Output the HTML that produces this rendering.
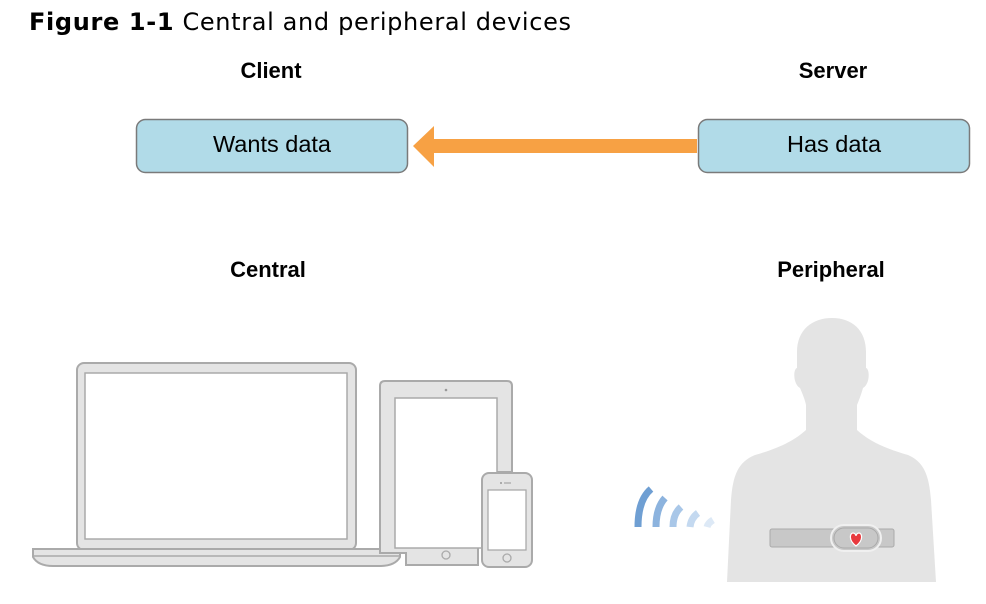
<!DOCTYPE html>
<html><head><meta charset="utf-8"><style>
html,body{margin:0;padding:0;background:#fff;}
svg{display:block;}
</style></head><body>
<svg width="986" height="604" viewBox="0 0 986 604" xmlns="http://www.w3.org/2000/svg">
<text x="29" y="30" font-family="'DejaVu Sans',sans-serif" font-size="24" fill="#000" textLength="542" lengthAdjust="spacing"><tspan font-weight="bold">Figure 1-1</tspan>  Central and peripheral devices</text>
<g font-family="'Liberation Sans',sans-serif" font-weight="bold" font-size="22" text-anchor="middle" fill="#000">
<text x="271" y="78">Client</text>
<text x="833" y="78">Server</text>
<text x="268" y="277">Central</text>
<text x="831" y="277">Peripheral</text>
</g>
<rect x="136.5" y="119.5" width="271" height="53" rx="9" fill="#b1dbe8" stroke="#7a7a7a" stroke-width="1.5"/>
<rect x="698.5" y="119.5" width="271" height="53" rx="9" fill="#b1dbe8" stroke="#7a7a7a" stroke-width="1.5"/>
<g font-family="'Liberation Sans',sans-serif" font-size="23.5" text-anchor="middle" fill="#000">
<text x="272" y="152">Wants data</text>
<text x="834" y="152">Has data</text>
</g>
<path d="M413 146 L434 126 L434 139 L697 139 L697 153 L434 153 L434 167 Z" fill="#f7a144"/>
<!-- laptop -->
<rect x="77" y="363" width="279" height="187" rx="7" fill="#e4e4e4" stroke="#aaa" stroke-width="2"/>
<rect x="85" y="373" width="262" height="166" fill="#fff" stroke="#aaa" stroke-width="1.5"/>
<path d="M33 557 L33 549 L400 549 L400 557 Q395 566 380 566 L53 566 Q38 566 33 557 Z" fill="#e4e4e4" stroke="#aaa" stroke-width="2"/>
<line x1="33" y1="556" x2="400" y2="556" stroke="#aaa" stroke-width="1.5"/>
<!-- tablet -->
<path d="M380 549 L380 386 Q380 381 385 381 L507 381 Q512 381 512 386 L512 472 L478 472 L478 565 L406 565 L406 553 L380 553 Z" fill="#e4e4e4" stroke="#aaa" stroke-width="2"/>
<rect x="395" y="398" width="102" height="150" fill="#fff" stroke="#aaa" stroke-width="1.5"/>
<circle cx="446" cy="390" r="1.3" fill="#999"/>
<circle cx="446" cy="555" r="4" fill="none" stroke="#aaa" stroke-width="1.3"/>
<!-- phone -->
<rect x="482" y="473" width="50" height="94" rx="7" fill="#e4e4e4" stroke="#aaa" stroke-width="2"/>
<rect x="488" y="490" width="38" height="60" fill="#fff" stroke="#aaa" stroke-width="1.3"/>
<circle cx="501" cy="483" r="1" fill="#999"/><line x1="504" y1="483" x2="511" y2="483" stroke="#999" stroke-width="1"/>
<circle cx="507" cy="558" r="4" fill="none" stroke="#aaa" stroke-width="1.3"/>
<!-- person -->
<path d="M832 318 C812 318 797 330 797 352 L797 368 C793 369 793 384 800 388 C803 395 805 400 806 405 L806 430 C795 440 780 448 755 455 C738 462 733 475 731 500 L727 582 L936 582 L931 500 C929 475 924 462 908 455 C883 448 868 440 857 430 L857 405 C859 400 861 395 863 388 C870 384 870 369 866 368 L866 352 C866 330 852 318 832 318 Z" fill="#e4e4e4"/>
<rect x="770" y="529" width="124" height="18" rx="2" fill="#c8c8c8" stroke="#aaa" stroke-width="1"/>
<rect x="831" y="525" width="50" height="26" rx="13" fill="#c8c8c8" stroke="#f0f0f0" stroke-width="2"/>
<rect x="834" y="528" width="44" height="20" rx="10" fill="none" stroke="#aaa" stroke-width="1"/>
<path d="M856 546 C848 540 850 533 853 533 C855 533 856 535 856 536 C856 535 857 533 859 533 C862 533 864 540 856 546 Z" fill="#e8393e" stroke="#fff" stroke-width="1.2"/>
<!-- signal -->
<g fill="none" stroke-width="7">
<path d="M638 527 Q638 500 651 489" stroke="#6f9fd3"/>
<path d="M656 527 Q656 508 665 498" stroke="#8cb3de"/>
<path d="M673 527 Q673 514 681 507" stroke="#a9c7e8"/>
<path d="M690 527 Q691 518 698 513" stroke="#c4d9f0"/>
<path d="M707 527 Q708 523 713 520" stroke="#dde9f6"/>
</g>
</svg>
</body></html>
